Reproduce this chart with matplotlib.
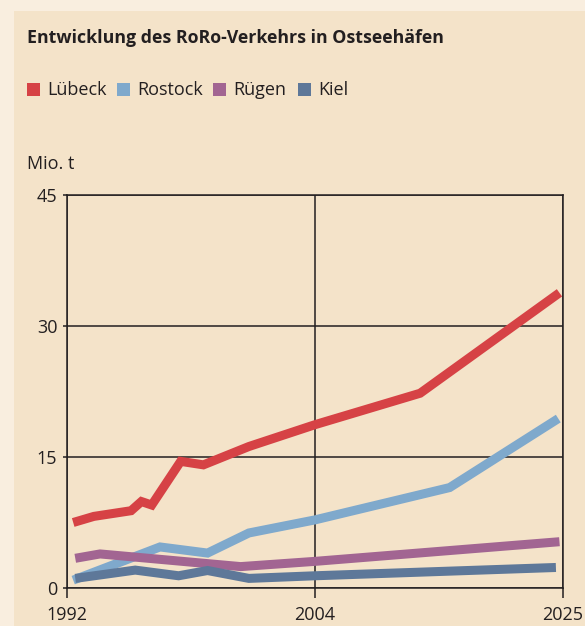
import numpy as np
import matplotlib.pyplot as plt
from matplotlib.patches import Rectangle

# Daten (Mio. t)
jahre_luebeck = [1992.3, 1993.3, 1995.1, 1995.6, 1996.1, 1997.5, 1998.6, 2000.8, 2004.0, 2012.9, 2024.7]
luebeck = [7.5, 8.2, 8.85, 9.9, 9.5, 14.5, 14.1, 16.2, 18.7, 22.3, 33.8]

jahre_rostock = [1992.3, 1996.5, 1998.8, 2000.8, 2004.0, 2015.4, 2024.6]
rostock = [0.9, 4.7, 4.0, 6.3, 7.8, 11.5, 19.4]

jahre_ruegen = [1992.4, 1993.6, 2000.4, 2004.0, 2024.7]
ruegen = [3.4, 3.9, 2.45, 3.05, 5.3]

jahre_kiel = [1992.4, 1995.3, 1997.4, 1998.8, 2000.8, 2004.0, 2024.4]
kiel = [1.1, 2.05, 1.4, 2.0, 1.1, 1.4, 2.35]

serien = ["Lübeck", "Rostock", "Rügen", "Kiel"]
farben = ["#D64245", "#7FA9CC", "#A26592", "#5E7899"]

x_ticks = [1992, 2004, 2025]
y_ticks = [0, 15, 30, 45]

plt.rcParams["font.family"] = ["Open Sans", "DejaVu Sans"]
text_farbe = "#231F20"

fig = plt.figure(figsize=(5.85, 6.26), dpi=100)
fig.patch.set_facecolor("#F9EEDF")
fig.patches.append(Rectangle((14 / 585, 0), 1, 1 - 11 / 626, transform=fig.transFigure,
                             facecolor="#F4E3C9", edgecolor="none", zorder=-10))

ax = fig.add_axes([67 / 585, 38 / 626, 496 / 585, 393 / 626])
ax.set_facecolor("#F4E3C9")

# Achse ist zweigeteilt: 1992-2004 und 2004-2025 je halbe Breite
def vor(x):
    return np.interp(x, x_ticks, [0, 1, 2])

def zurueck(x):
    return np.interp(x, [0, 1, 2], x_ticks)

ax.set_xscale("function", functions=(vor, zurueck))

daten = [(jahre_luebeck, luebeck), (jahre_rostock, rostock),
         (jahre_ruegen, ruegen), (jahre_kiel, kiel)]
# Kiel und Rügen liegen unten, Lübeck oben
for i in [1, 2, 3, 0]:
    xs, ys = daten[i]
    ax.plot(xs, ys, color=farben[i], lw=6.5, solid_capstyle="butt",
            solid_joinstyle="miter", zorder=3)

ax.set_xlim(1992, 2025)
ax.set_ylim(0, 45)
ax.set_xticks(x_ticks)
ax.set_yticks(y_ticks)
ax.grid(True, color=text_farbe, lw=1.1, zorder=1)
for s in ax.spines.values():
    s.set_color(text_farbe)
    s.set_linewidth(1.1)
ax.tick_params(axis="x", length=7, width=1.1, color=text_farbe, labelsize=13,
               labelcolor=text_farbe, pad=6)
ax.tick_params(axis="y", length=3, width=1.1, color=text_farbe, labelsize=13,
               labelcolor=text_farbe, pad=4)

# Titel, Legende, Einheit
fig.text(27 / 585, 1 - 38 / 626, "Entwicklung des RoRo-Verkehrs in Ostseehäfen",
         fontsize=12.8, fontweight="bold", color=text_farbe, va="center")

leg_x = [27, 117, 213, 298]
for name, farbe, x0 in zip(serien, farben, leg_x):
    fig.patches.append(Rectangle((x0 / 585, 1 - 96 / 626), 13 / 585, 13 / 626,
                                 transform=fig.transFigure, facecolor=farbe,
                                 edgecolor="none", zorder=2))
    fig.text((x0 + 20) / 585, 1 - 90 / 626, name, fontsize=13, color=text_farbe,
             va="center")

fig.text(27 / 585, 1 - 164 / 626, "Mio. t", fontsize=13, color=text_farbe, va="center")

fig.savefig("out.png", dpi=100, facecolor=fig.get_facecolor())
